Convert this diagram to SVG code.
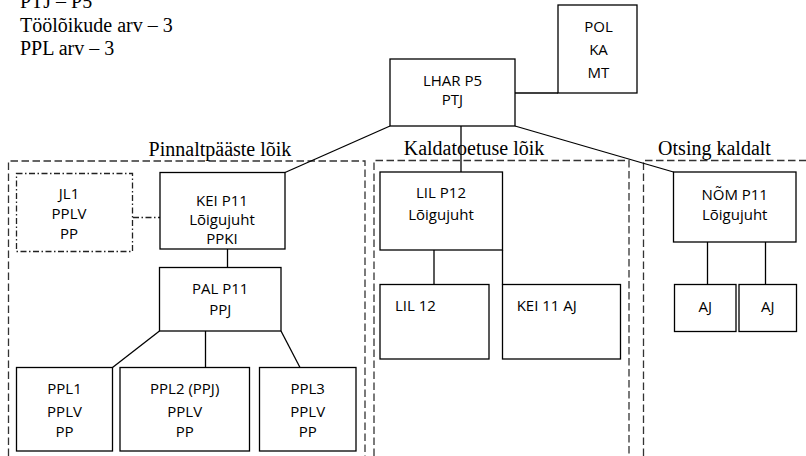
<svg xmlns="http://www.w3.org/2000/svg" width="806" height="456" viewBox="0 0 806 456">
<style>
  .box{fill:#fff;stroke:#000;stroke-width:1.3}
  .dd{fill:#fff;stroke:#222;stroke-width:1.3;stroke-dasharray:6 2.5 1.5 2.5}
  .sec{fill:none;stroke:#333;stroke-width:1.3;stroke-dasharray:7.5 3.5}
  .ln{fill:none;stroke:#000;stroke-width:1.3}
  .lnd{fill:none;stroke:#222;stroke-width:1.3;stroke-dasharray:6 2.5 1.5 2.5}
  .t{font-family:"Open Sans","Noto Sans",sans-serif;font-size:15px;fill:#000;text-anchor:middle}
  .tl{font-family:"Open Sans","Noto Sans",sans-serif;font-size:15px;fill:#000}
  .s{font-family:"Liberation Serif","Times New Roman",serif;font-size:20px;fill:#000}
  .sc{font-family:"Liberation Serif","Times New Roman",serif;font-size:20px;fill:#000;text-anchor:middle}
</style>
<rect width="806" height="456" fill="#fff"/>
<g id="legend">
  <text class="s" x="20" y="7.5">PTJ – P5</text>
  <text class="s" x="20" y="31.5">Töölõikude arv – 3</text>
  <text class="s" x="20" y="55">PPL arv – 3</text>
</g>
<g id="sections">
  <g id="sec-pinnaltpaaste">
    <path class="sec" d="M8.5,456 V161 H365 V456"/>
    <text class="sc" x="220" y="156">Pinnaltpääste lõik</text>
  </g>
  <g id="sec-kaldatoetuse">
    <path class="sec" d="M374,456 V160.5 H629 V456"/>
    <text class="sc" x="474" y="155">Kaldatoetuse lõik</text>
  </g>
  <g id="sec-otsing">
    <path class="sec" d="M643.5,456 V160.5 H806"/>
    <text class="sc" x="714.5" y="155">Otsing kaldalt</text>
  </g>
</g>
<g id="connectors">
  <line class="ln" x1="515" y1="93" x2="558" y2="93"/>
  <line class="ln" x1="390" y1="126" x2="285" y2="172.5"/>
  <line class="ln" x1="461" y1="126" x2="461" y2="172"/>
  <line class="ln" x1="515" y1="126" x2="673.5" y2="172"/>
  <line class="lnd" x1="133" y1="217.5" x2="160" y2="217.5"/>
  <line class="ln" x1="227.5" y1="249" x2="227.5" y2="267.5"/>
  <line class="ln" x1="159.5" y1="331" x2="112.5" y2="367.5"/>
  <line class="ln" x1="205.5" y1="331" x2="205.5" y2="367.5"/>
  <line class="ln" x1="281" y1="331" x2="300" y2="367.5"/>
  <line class="ln" x1="434" y1="250" x2="434" y2="284.5"/>
  <line class="ln" x1="502.5" y1="250" x2="502.5" y2="284.5"/>
  <line class="ln" x1="707.5" y1="242" x2="707.5" y2="284.5"/>
  <line class="ln" x1="765.5" y1="242" x2="765.5" y2="284.5"/>
</g>
<g id="node-pol">
  <rect class="box" x="558" y="5" width="79" height="88"/>
  <text class="t" x="598.5" y="31.7">POL</text>
  <text class="t" x="598.5" y="54.5">KA</text>
  <text class="t" x="598.5" y="78">MT</text>
</g>
<g id="node-lhar">
  <rect class="box" x="390" y="59" width="125" height="67"/>
  <text class="t" x="452.5" y="85.7">LHAR P5</text>
  <text class="t" x="452.5" y="105">PTJ</text>
</g>
<g id="node-jl1">
  <rect class="dd" x="16.5" y="173.5" width="116" height="78"/>
  <text class="t" x="69" y="199.3">JL1</text>
  <text class="t" x="69" y="219.3">PPLV</text>
  <text class="t" x="69" y="239.3">PP</text>
</g>
<g id="node-kei">
  <rect class="box" x="160" y="172.5" width="125" height="76.5"/>
  <text class="t" x="222" y="205.7">KEI P11</text>
  <text class="t" x="222" y="225">Lõigujuht</text>
  <text class="t" x="222" y="244.3">PPKI</text>
</g>
<g id="node-pal">
  <rect class="box" x="159.5" y="267.5" width="121.5" height="63.5"/>
  <text class="t" x="220.2" y="294">PAL P11</text>
  <text class="t" x="220.2" y="315">PPJ</text>
</g>
<g id="node-ppl1">
  <rect class="box" x="16.5" y="367.5" width="96" height="83.5"/>
  <text class="t" x="64.5" y="394.3">PPL1</text>
  <text class="t" x="64.5" y="416.7">PPLV</text>
  <text class="t" x="64.5" y="436.7">PP</text>
</g>
<g id="node-ppl2">
  <rect class="box" x="120" y="367.5" width="129.5" height="83.5"/>
  <text class="t" x="184.7" y="394.3">PPL2 (PPJ)</text>
  <text class="t" x="184.7" y="416.7">PPLV</text>
  <text class="t" x="184.7" y="436.7">PP</text>
</g>
<g id="node-ppl3">
  <rect class="box" x="259.5" y="367.5" width="96.5" height="83.5"/>
  <text class="t" x="307.7" y="394.3">PPL3</text>
  <text class="t" x="307.7" y="416.7">PPLV</text>
  <text class="t" x="307.7" y="436.7">PP</text>
</g>
<g id="node-lilp12">
  <rect class="box" x="380" y="172" width="122.5" height="78"/>
  <text class="t" x="441" y="198.3">LIL P12</text>
  <text class="t" x="441" y="220">Lõigujuht</text>
</g>
<g id="node-lil12">
  <rect class="box" x="380" y="284.5" width="109" height="74.5"/>
  <text class="tl" x="395" y="310.7">LIL 12</text>
</g>
<g id="node-kei11aj">
  <rect class="box" x="502.5" y="284.5" width="118" height="74.5"/>
  <text class="tl" x="516.7" y="310.7">KEI 11 AJ</text>
</g>
<g id="node-nom">
  <rect class="box" x="673.5" y="172" width="122.5" height="70"/>
  <text class="t" x="734.7" y="200">NÕM P11</text>
  <text class="t" x="734.7" y="220">Lõigujuht</text>
</g>
<g id="node-aj1">
  <rect class="box" x="674.5" y="284.5" width="61.5" height="47"/>
  <text class="t" x="705.2" y="311.7">AJ</text>
</g>
<g id="node-aj2">
  <rect class="box" x="739" y="284.5" width="57.5" height="47"/>
  <text class="t" x="767.7" y="311.7">AJ</text>
</g>
</svg>
